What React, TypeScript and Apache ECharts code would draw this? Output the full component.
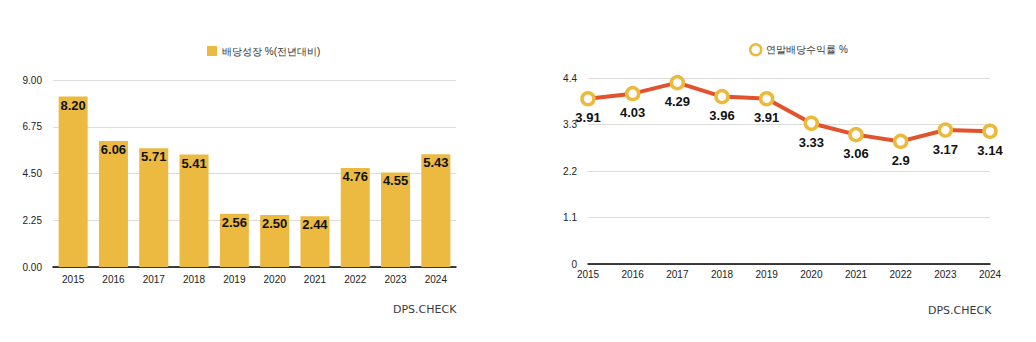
import React, { useEffect, useRef } from "react";
import * as echarts from "echarts";

const years = ["2015", "2016", "2017", "2018", "2019", "2020", "2021", "2022", "2023", "2024"];
const growthValues = [8.2, 6.06, 5.71, 5.41, 2.56, 2.5, 2.44, 4.76, 4.55, 5.43];
const yieldValues = [3.91, 4.03, 4.29, 3.96, 3.91, 3.33, 3.06, 2.9, 3.17, 3.14];
const growthName = "배당성장 %(전년대비)";
const yieldName = "연말배당수익률 %";
const watermark = "DPS.CHECK";

const FONT = "Liberation Sans, Arial, sans-serif";

export default function App() {
  const ref = useRef<HTMLDivElement>(null);
  useEffect(() => {
    if (!ref.current) return;
    const chart = echarts.init(ref.current, undefined, { renderer: "svg" });
    chart.setOption({
      animation: false,
      backgroundColor: "#fff",
      textStyle: { fontFamily: FONT },
      legend: [
        {
          data: [{ name: growthName, icon: "rect" }],
          left: 202,
          top: 41,
          itemWidth: 10,
          itemHeight: 10,
          itemGap: 6,
          textStyle: { fontSize: 10, color: "#333", fontFamily: FONT },
        },
        {
          data: [
            {
              name: yieldName,
              icon: "circle",
              itemStyle: { color: "#fff", borderColor: "#EDB93A", borderWidth: 2.5 },
            },
          ],
          left: 744,
          top: 38,
          itemWidth: 11,
          itemHeight: 11,
          itemGap: 6,
          textStyle: { fontSize: 10, color: "#333", fontFamily: FONT },
        },
      ],
      grid: [
        { left: 53, right: 580, top: 80, bottom: 75 },
        { left: 588, right: 46, top: 78, bottom: 78 },
      ],
      xAxis: [
        {
          type: "category",
          gridIndex: 0,
          data: years,
          axisLine: { lineStyle: { color: "#000", width: 1.5 } },
          axisTick: { show: false },
          axisLabel: { fontSize: 10, color: "#222", margin: 7 },
        },
        {
          type: "category",
          gridIndex: 1,
          data: years,
          boundaryGap: false,
          axisLine: { lineStyle: { color: "#000", width: 1.5 } },
          axisTick: { show: false },
          axisLabel: { fontSize: 10, color: "#222", margin: 5 },
        },
      ],
      yAxis: [
        {
          type: "value",
          gridIndex: 0,
          min: 0,
          max: 9,
          interval: 2.25,
          axisLine: { show: false },
          axisTick: { show: false },
          splitLine: { lineStyle: { color: "#dcdcdc" } },
          axisLabel: {
            fontSize: 10,
            color: "#222",
            margin: 11,
            formatter: (v: number) => v.toFixed(2),
          },
        },
        {
          type: "value",
          gridIndex: 1,
          min: 0,
          max: 4.4,
          interval: 1.1,
          axisLine: { show: false },
          axisTick: { show: false },
          splitLine: { lineStyle: { color: "#dcdcdc" } },
          axisLabel: {
            fontSize: 10,
            color: "#222",
            margin: 11,
            formatter: (v: number) => (v === 0 ? "0" : (Math.round(v * 10) / 10).toFixed(1)),
          },
        },
      ],
      series: [
        {
          name: growthName,
          type: "bar",
          xAxisIndex: 0,
          yAxisIndex: 0,
          data: growthValues,
          barWidth: "72%",
          itemStyle: { color: "#ECBA40" },
          label: {
            show: true,
            position: "insideTop",
            distance: 2,
            fontSize: 13,
            fontWeight: "bold",
            color: "#111",
            formatter: (p: any) => Number(p.value).toFixed(2),
          },
        },
        {
          name: yieldName,
          type: "line",
          xAxisIndex: 1,
          yAxisIndex: 1,
          data: yieldValues,
          symbol: "circle",
          symbolSize: 12,
          lineStyle: { color: "#E2522C", width: 4 },
          itemStyle: { color: "#fff", borderColor: "#EDB93A", borderWidth: 3.5 },
          label: {
            show: true,
            position: "bottom",
            distance: 5,
            fontSize: 13,
            fontWeight: "bold",
            color: "#111",
          },
        },
      ],
      graphic: [
        {
          type: "text",
          left: 393,
          top: 304,
          style: {
            text: watermark,
            fontSize: 11,
            fontFamily: "DejaVu Sans",
            fill: "#3a3a3a",
          },
        },
        {
          type: "text",
          left: 928,
          top: 305,
          style: {
            text: watermark,
            fontSize: 11,
            fontFamily: "DejaVu Sans",
            fill: "#3a3a3a",
          },
        },
      ],
    });
    return () => chart.dispose();
  }, []);
  return (
    <div
      ref={ref}
      style={{ position: "fixed", left: 0, top: 0, width: 1036, height: 342 }}
    />
  );
}
